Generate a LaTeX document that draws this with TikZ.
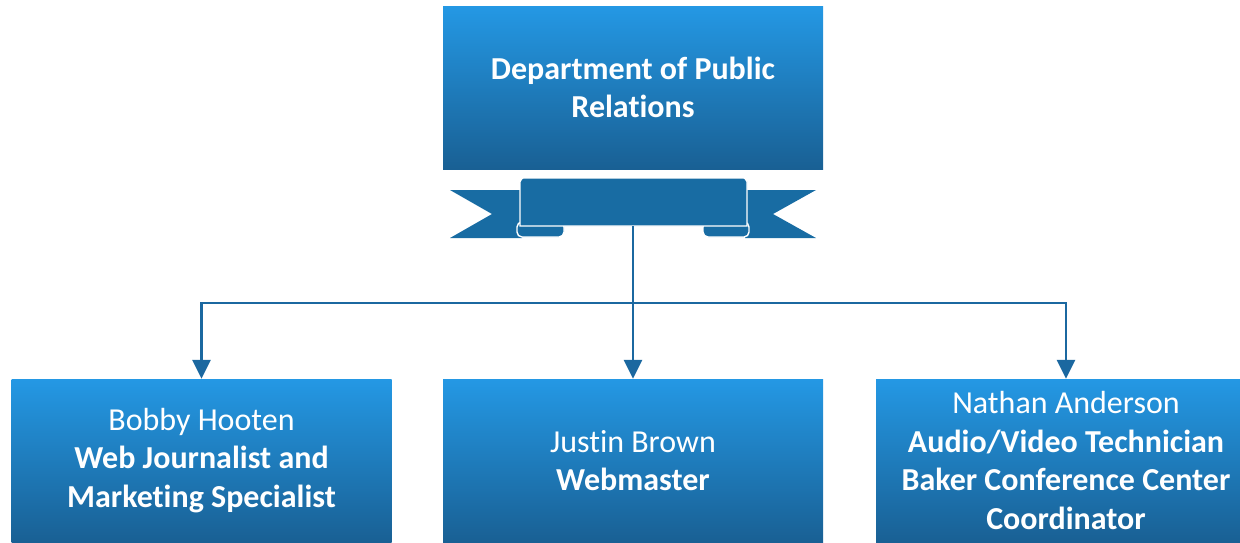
\documentclass[tikz,border=0pt]{standalone}
\usepackage{fontspec}
\setmainfont{Carlito}[Ligatures=NoCommon]
\usetikzlibrary{arrows.meta}
\definecolor{gtop}{RGB}{36,152,228}
\definecolor{gbot}{RGB}{25,96,148}
\definecolor{ribc}{RGB}{24,108,163}
\definecolor{linec}{RGB}{27,104,160}
\tikzset{
  box/.style={rectangle, minimum width=380pt, minimum height=163pt, inner sep=0pt,
    top color=gtop, bottom color=gbot, draw=none, text=white, align=center,
    font=\fontsize{32}{38.5}\selectfont},
  conn/.style={draw=linec, line width=2.6pt},
  arr/.style={conn, -{Triangle[width=18pt,length=19pt]}},
}
\begin{document}
\begin{tikzpicture}[x=1pt,y=-1pt]
\useasboundingbox (0,0) rectangle (1240,542);
\clip (0,0) rectangle (1240,542);
% top box
\node[box] (top) at (633,87.5) {\textbf{Department of Public}\\\textbf{Relations}};
% ribbon tails
\fill[ribc] (450,190) -- (522,190) -- (522,238) -- (450,238) -- (492,214) -- cycle;
\fill[ribc] (816,190) -- (745,190) -- (745,238) -- (816,238) -- (773,214) -- cycle;
% folds
\draw[white, line width=1.4pt, fill=ribc, rounded corners=5pt] (517,222) rectangle (564,237);
\draw[white, line width=1.4pt, fill=ribc, rounded corners=5pt] (703,222) rectangle (749,237);
% body
\draw[white, line width=1.4pt, fill=ribc] (520,226) -- (520,181) to[out=-90,in=180] (523,178) -- (744,178) to[out=0,in=-90] (747,181) -- (747,226) -- cycle;
\coordinate (rib) at (633,226);
\coordinate (j) at (633,303);
% bottom boxes
\node[box] (b1) at (201.5,460.5) {Bobby Hooten\\\textbf{Web Journalist and}\\\textbf{Marketing Specialist}};
\node[box] (b2) at (633,460.5) {Justin Brown\\\textbf{Webmaster}};
\node[box] (b3) at (1066,460.5) {Nathan Anderson\\\textbf{Audio/Video Technician}\\\textbf{Baker Conference Center}\\\textbf{Coordinator}};
% connectors
\draw[conn] (rib) -- (j);
\draw[arr] (j) -| (b1.north);
\draw[arr] (j) -- (b2.north);
\draw[arr] (j) -| (b3.north);
\end{tikzpicture}
\end{document}
